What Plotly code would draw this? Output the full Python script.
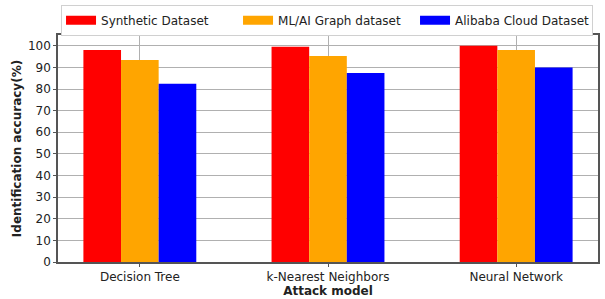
import plotly.graph_objects as go

categories = ["Decision Tree", "k-Nearest Neighbors", "Neural Network"]
synthetic = [98.1, 99.6, 100.0]
mlai = [93.4, 95.3, 98.1]
alibaba = [82.4, 87.4, 90.0]
series_names = ["Synthetic Dataset", "ML/AI Graph dataset", "Alibaba Cloud Dataset"]
colors = ["#ff0000", "#ffa500", "#0000ff"]
yticks = list(range(0, 101, 10))

fig = go.Figure()
for name, vals, c in zip(series_names, [synthetic, mlai, alibaba], colors):
    fig.add_trace(go.Bar(x=categories, y=vals, name=name, showlegend=False, legendgroup=name,
                         marker=dict(color=c, line=dict(width=0))))
# legend entries drawn as wide patches (thick line symbols)
for name, c in zip(series_names, colors):
    fig.add_trace(go.Scatter(x=[None], y=[None], mode="lines", name=name, legendgroup=name,
                             line=dict(color=c, width=9), hoverinfo="skip"))

font = "DejaVu Sans"
fig.update_layout(
    width=605, height=299,
    margin=dict(l=58, r=7, t=35, b=37, autoexpand=False),
    barmode="group", bargap=0.4, bargroupgap=0,
    plot_bgcolor="white", paper_bgcolor="white",
    font=dict(family=font, size=12, color="#222"),
    legend=dict(orientation="h", x=0.0056, y=1.133, xanchor="left", yanchor="top",
                bordercolor="#d0d0d0", borderwidth=1, bgcolor="white",
                font=dict(size=12, family=font), entrywidth=132, entrywidthmode="pixels",
                itemwidth=30, tracegroupgap=0),
    xaxis=dict(range=[-0.435, 2.435], showgrid=True, gridcolor="#b0b0b0", gridwidth=1,
               showline=True, linecolor="#555", linewidth=1.5, mirror=True,
               ticks="outside", ticklen=3, tickcolor="#555",
               tickfont=dict(size=12, family=font),
               title=dict(text="<b>Attack model</b>", font=dict(size=12, family=font), standoff=2)),
    yaxis=dict(range=[0, 105], tickvals=yticks, showgrid=True, gridcolor="#b0b0b0", gridwidth=1,
               showline=True, linecolor="#555", linewidth=1.5, mirror=True,
               ticks="outside", ticklen=3, tickcolor="#555", zeroline=False,
               tickfont=dict(size=12, family=font),
               title=dict(text="<b>Identification accuracy(%)</b>", font=dict(size=12, family=font), standoff=4)),
)
fig.write_html("out.html", config={"displayModeBar": False},
               post_script="document.body.style.margin='0px';")
